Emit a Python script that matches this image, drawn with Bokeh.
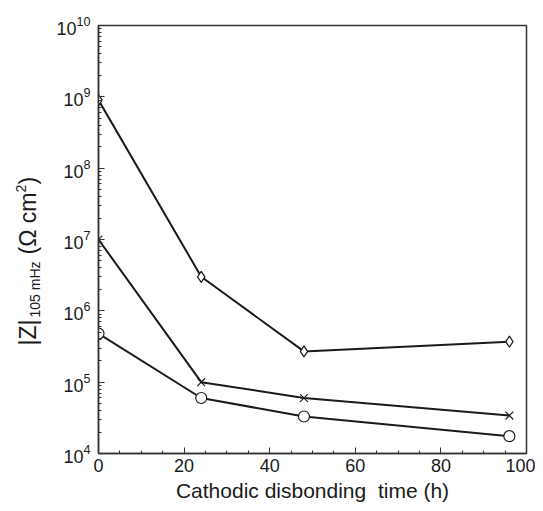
import math
from bokeh.plotting import figure
from bokeh.layouts import row
from bokeh.models import SingleIntervalTicker, LogTicker, Range1d
from bokeh.core.properties import value
from bokeh.embed import file_html
from bokeh.resources import INLINE

hours = [0, 24, 48, 96]
z_diamond = [9.0e8, 3.0e6, 2.7e5, 3.7e5]
z_cross = [1.0e7, 1.0e5, 6.0e4, 3.4e4]
z_circle = [4.8e5, 6.0e4, 3.3e4, 1.75e4]

FONT = "Liberation Sans"
INK = "#1a1a1a"
TOTAL_H = 503
LABEL_W = 48

p = figure(frame_width=428, frame_height=428, y_axis_type="log",
           x_range=Range1d(0, 100), y_range=Range1d(1e4, 1e10),
           output_backend="svg", toolbar_location=None,
           min_border_left=98 - LABEL_W, min_border_right=9,
           min_border_top=25, min_border_bottom=50)

p.xgrid.visible = False
p.ygrid.visible = False
p.outline_line_color = "#333333"
p.outline_line_width = 1.5

p.xaxis.ticker = SingleIntervalTicker(interval=20, num_minor_ticks=4)
p.yaxis.ticker = LogTicker(num_minor_ticks=10)

for ax in (p.xaxis, p.yaxis):
    ax.axis_line_color = "#333333"
    ax.axis_line_width = 1.5
    ax.major_tick_in = 6
    ax.major_tick_out = 0
    ax.minor_tick_in = 3
    ax.minor_tick_out = 0
    ax.major_tick_line_color = "#333333"
    ax.minor_tick_line_color = "#333333"
    ax.major_label_text_font = FONT
    ax.major_label_text_font_size = "18px"
    ax.major_label_text_color = INK

p.xaxis.axis_label = "Cathodic disbonding\u00a0 time (h)"
p.xaxis.axis_label_text_font = FONT
p.xaxis.axis_label_text_font_size = "21px"
p.xaxis.axis_label_text_font_style = "normal"
p.xaxis.axis_label_text_color = INK
p.xaxis.axis_label_standoff = 4
p.xaxis.major_label_standoff = 5
p.yaxis.major_label_standoff = 8

lw = 2
p.line(hours, z_diamond, line_color=INK, line_width=lw)
p.scatter(hours, z_diamond, marker="diamond", size=11, fill_color="white",
          line_color=INK, line_width=1.2)
p.line(hours, z_cross, line_color=INK, line_width=lw)
p.scatter(hours, z_cross, marker="x", size=11, line_color=INK, line_width=1.2)
p.line(hours, z_circle, line_color=INK, line_width=lw)
p.scatter(hours, z_circle, marker="circle", size=11, fill_color="white",
          line_color=INK, line_width=1.2)

# Separate narrow panel holding the y-axis title |Z|_{105 mHz} (Ω cm^2)
lab = figure(frame_width=LABEL_W, frame_height=TOTAL_H, x_range=Range1d(0, LABEL_W),
             y_range=Range1d(0, TOTAL_H), output_backend="svg", toolbar_location=None,
             x_axis_location=None, y_axis_location=None, title=None,
             min_border=0, outline_line_color=None)
lab.grid.visible = False

ang = math.pi / 2
# (text, font size, centre-line x in px from left, start y in px from bottom)
parts = [
    ("|Z|", "23px", 27, TOTAL_H - 320),
    ("105 mHz", "14px", 34, TOTAL_H - 292),
    ("(Ω cm", "23px", 27, TOTAL_H - 229),
    ("2", "14px", 20, TOTAL_H - 167),
    (")", "23px", 27, TOTAL_H - 159),
]
for t, fs, xx, yy in parts:
    lab.text(x=[xx], y=[yy], text=[t], angle=ang, text_font=value(FONT),
             text_font_size=fs, text_color=INK, text_baseline="middle",
             text_align="left")

layout = row(lab, p, spacing=0)
open("out.html", "w").write(file_html(layout, INLINE))
